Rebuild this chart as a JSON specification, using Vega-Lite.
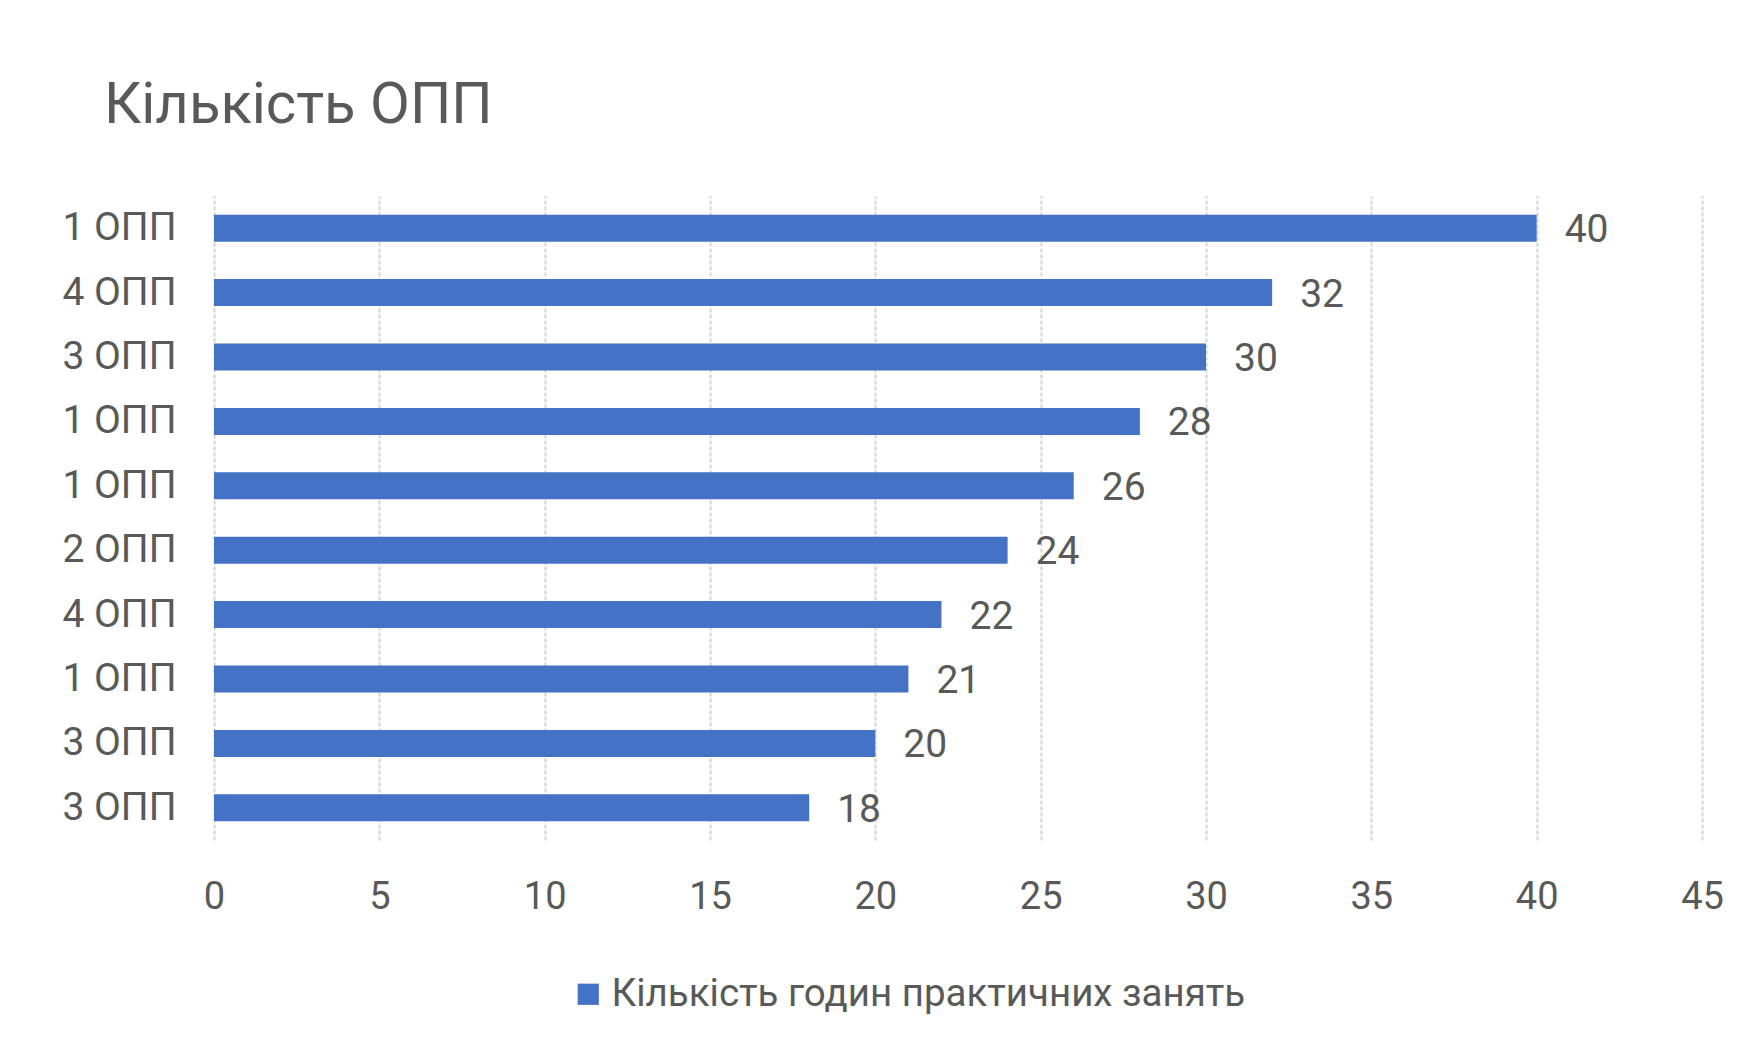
{
  "$schema": "https://vega.github.io/schema/vega-lite/v6.json",
  "autosize": {"type": "none"},
  "padding": {"left": 214, "top": 196, "right": 55, "bottom": 217},
  "width": 1488,
  "height": 644,
  "background": "#ffffff",
  "config": {
    "view": {"stroke": null},
    "font": "Roboto",
    "text": {"font": "Roboto"}
  },
  "title": {
    "text": "Кількість ОПП",
    "anchor": "start",
    "frame": "group",
    "dx": -110,
    "offset": 15,
    "baseline": "alphabetic",
    "fontSize": 58,
    "font": "Roboto",
    "fontWeight": "normal",
    "color": "#595959"
  },
  "data": {
    "values": [
      {"rank": 1, "label": "1 ОПП", "hours": 40},
      {"rank": 2, "label": "4 ОПП", "hours": 32},
      {"rank": 3, "label": "3 ОПП", "hours": 30},
      {"rank": 4, "label": "1 ОПП", "hours": 28},
      {"rank": 5, "label": "1 ОПП", "hours": 26},
      {"rank": 6, "label": "2 ОПП", "hours": 24},
      {"rank": 7, "label": "4 ОПП", "hours": 22},
      {"rank": 8, "label": "1 ОПП", "hours": 21},
      {"rank": 9, "label": "3 ОПП", "hours": 20},
      {"rank": 10, "label": "3 ОПП", "hours": 18}
    ]
  },
  "encoding": {
    "y": {
      "field": "rank",
      "type": "ordinal",
      "sort": "ascending",
      "scale": {"paddingInner": 0, "paddingOuter": 0},
      "axis": {
        "title": null,
        "domain": false,
        "ticks": false,
        "labelPadding": 38,
        "labelFontSize": 39,
        "labelFont": "Roboto",
        "labelColor": "#595959",
        "labelExpr": "['1 ОПП','4 ОПП','3 ОПП','1 ОПП','1 ОПП','2 ОПП','4 ОПП','1 ОПП','3 ОПП','3 ОПП'][datum.value - 1]"
      }
    },
    "x": {
      "field": "hours",
      "type": "quantitative",
      "scale": {"domain": [0, 45], "nice": false},
      "axis": {
        "title": null,
        "domain": false,
        "ticks": false,
        "values": [0, 5, 10, 15, 20, 25, 30, 35, 40, 45],
        "labelFlush": false,
        "labelPadding": 38,
        "labelFontSize": 38,
        "labelFont": "Roboto",
        "labelColor": "#595959",
        "grid": true,
        "gridColor": "#d4d4d4",
        "gridWidth": 2,
        "gridDash": [4, 2]
      }
    }
  },
  "layer": [
    {
      "mark": {"type": "bar", "size": 27},
      "encoding": {
        "color": {
          "datum": "Кількість годин практичних занять",
          "type": "nominal",
          "scale": {"range": ["#4472C4"]},
          "legend": {
            "title": null,
            "orient": "none",
            "legendX": 355,
            "legendY": 779,
            "padding": 0,
            "symbolType": "square",
            "symbolSize": 450,
            "symbolStrokeWidth": 0,
            "labelFontSize": 38.5,
            "labelLimit": 1000,
            "labelFont": "Roboto",
            "labelColor": "#595959",
            "labelOffset": 4
          }
        }
      }
    },
    {
      "mark": {
        "type": "text",
        "align": "left",
        "baseline": "middle",
        "dx": 28,
        "dy": 2,
        "fontSize": 39,
        "font": "Roboto",
        "color": "#595959"
      },
      "encoding": {
        "text": {"field": "hours", "type": "quantitative"}
      }
    }
  ]
}
